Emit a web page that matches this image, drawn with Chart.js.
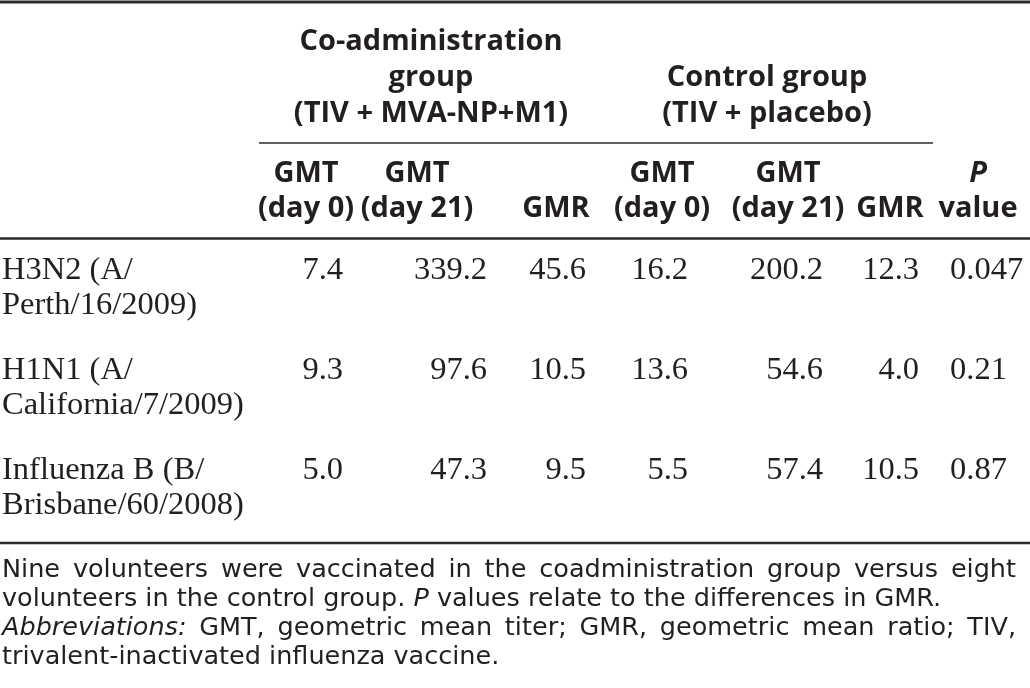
<!DOCTYPE html>
<html>
<head>
<meta charset="utf-8">
<script src="https://cdn.jsdelivr.net/npm/chart.js@4.4.1/dist/chart.umd.min.js"></script>
<style>
  html, body { margin: 0; padding: 0; background: #fff; }
  canvas { display: block; }
</style>
</head>
<body>
<canvas id="tbl" width="1030" height="688"></canvas>
<script>
// rows of the table
const rowKeys = ['H3N2', 'H1N1', 'B'];
const rowLabels = [
  ['H3N2 (A/', 'Perth/16/2009)'],
  ['H1N1 (A/', 'California/7/2009)'],
  ['Influenza B (B/', 'Brisbane/60/2008)']
];
// co-administration group (TIV + MVA-NP+M1)
const coGmtDay0 = [7.4, 9.3, 5.0];
const coGmtDay21 = [339.2, 97.6, 47.3];
const coGmr = [45.6, 10.5, 9.5];
// control group (TIV + placebo)
const ctGmtDay0 = [16.2, 13.6, 5.5];
const ctGmtDay21 = [200.2, 54.6, 57.4];
const ctGmr = [12.3, 4.0, 10.5];
const pValues = [0.047, 0.21, 0.87];

const groupHeads = [
  ['Co-administration', 'group', '(TIV + MVA-NP+M1)'],
  ['Control group', '(TIV + placebo)']
];
const colHeads = [
  ['GMT', '(day 0)'], ['GMT', '(day 21)'], ['', 'GMR'],
  ['GMT', '(day 0)'], ['GMT', '(day 21)'], ['', 'GMR'],
  ['P', 'value']
];
const footLines = [
  {words: 'Nine volunteers were vaccinated in the coadministration group versus eight', justify: true},
  {words: 'volunteers in the control group. _P values relate to the differences in GMR.', justify: false},
  {words: '_Abbreviations: GMT, geometric mean titer; GMR, geometric mean ratio; TIV,', justify: true},
  {words: 'trivalent-inactivated influenza vaccine.', justify: false}
];

// layout (page units, x axis runs 0..1030)
const colRight = [343, 487, 586, 688, 823, 919];
const pLeft = 950;
const headCenter = [306, 417, 556, 662, 788, 890, 978];
const groupCenter = [431, 767];

const ink = '#231f20';
const serif = '"Liberation Serif", "Times New Roman", serif';
const sans = '"Open Sans", "Noto Sans", sans-serif';
const noteFont = '"DejaVu Sans", sans-serif';
const noteSize = 25.5;

const numCols = [coGmtDay0, coGmtDay21, coGmr, ctGmtDay0, ctGmtDay21, ctGmr];
let datasets = [];
datasets.push({
  label: 'row',
  data: rowKeys.map((k) => ({x: 2, y: k})),
  texts: rowLabels,
  align: 'left'
});
numCols.forEach(function(col, c){
  datasets.push({
    label: 'c' + c,
    data: rowKeys.map((k) => ({x: colRight[c], y: k})),
    texts: col.map((v) => [v.toFixed(1)]),
    align: 'right'
  });
});
datasets.push({
  label: 'p',
  data: rowKeys.map((k) => ({x: pLeft, y: k})),
  texts: pValues.map((v) => [String(v)]),
  align: 'left'
});

function rule(ctx, x0, x1, y, w){
  ctx.save();
  ctx.strokeStyle = '#2a2a2a';
  ctx.lineWidth = w;
  ctx.beginPath();
  ctx.moveTo(x0, y);
  ctx.lineTo(x1, y);
  ctx.stroke();
  ctx.restore();
}

function footLine(ctx, line, x, y, width){
  let words = line.words.split(' ').map(function(w){
    let it = w.startsWith('_');
    return {t: it ? w.slice(1) : w, it: it};
  });
  let widths = words.map(function(w){
    ctx.font = (w.it ? 'italic ' : '') + noteSize + 'px ' + noteFont;
    return ctx.measureText(w.t).width;
  });
  ctx.font = noteSize + 'px ' + noteFont;
  let gap = ctx.measureText(' ').width;
  if(line.justify){
    let sum = widths.reduce((a, b) => a + b, 0);
    gap = (width - sum) / (words.length - 1);
  }
  let cx = x;
  words.forEach(function(w, i){
    ctx.font = (w.it ? 'italic ' : '') + noteSize + 'px ' + noteFont;
    ctx.fillText(w.t, cx, y);
    cx += widths[i] + gap;
  });
}

const tablePlugin = {
  id: 'tablePlugin',
  afterDatasetsDraw(chart){
    const ctx = chart.ctx;
    const xs = chart.scales.x;
    ctx.save();
    ctx.fillStyle = ink;
    ctx.textBaseline = 'alphabetic';

    // rules
    rule(ctx, 0, 1030, 2, 3);
    rule(ctx, xs.getPixelForValue(259), xs.getPixelForValue(933), 143, 1.5);
    rule(ctx, 0, 1030, 238.5, 2.5);
    rule(ctx, 0, 1030, 543, 2.5);

    // spanning group headers
    ctx.textAlign = 'center';
    ctx.font = 'bold 29px ' + sans;
    [50, 86, 122].forEach(function(y, i){
      ctx.fillText(groupHeads[0][i], xs.getPixelForValue(groupCenter[0]), y);
    });
    [86, 122].forEach(function(y, i){
      ctx.fillText(groupHeads[1][i], xs.getPixelForValue(groupCenter[1]), y);
    });

    // column headers
    colHeads.forEach(function(h, c){
      let x = xs.getPixelForValue(headCenter[c]);
      ctx.font = (h[0] === 'P' ? 'italic bold 29px ' : 'bold 29px ') + sans;
      if(h[0]) ctx.fillText(h[0], x, 182);
      ctx.font = 'bold 29px ' + sans;
      ctx.fillText(h[1], x, 217);
    });

    // cells
    ctx.font = '32.5px ' + serif;
    chart.data.datasets.forEach(function(ds, d){
      let meta = chart.getDatasetMeta(d);
      ctx.textAlign = ds.align;
      meta.data.forEach(function(el, i){
        ds.texts[i].forEach(function(t, k){
          ctx.fillText(t, el.x, el.y + k * 35);
        });
      });
    });

    // footnote
    ctx.textAlign = 'left';
    [577, 606, 635, 664].forEach(function(y, i){
      footLine(ctx, footLines[i], 2, y, 1014);
    });
    ctx.restore();
  }
};

new Chart(document.getElementById('tbl'), {
  type: 'scatter',
  data: {datasets: datasets},
  options: {
    responsive: false,
    animation: false,
    devicePixelRatio: 1,
    layout: {padding: {top: 279, bottom: 209, left: 0, right: 0}},
    elements: {point: {radius: 0, hoverRadius: 0}},
    plugins: {legend: {display: false}, tooltip: {enabled: false}},
    events: [],
    scales: {
      x: {type: 'linear', min: 0, max: 1030, display: false},
      y: {type: 'category', labels: rowKeys, offset: false, display: false}
    }
  },
  plugins: [tablePlugin]
});
</script>
</body>
</html>
